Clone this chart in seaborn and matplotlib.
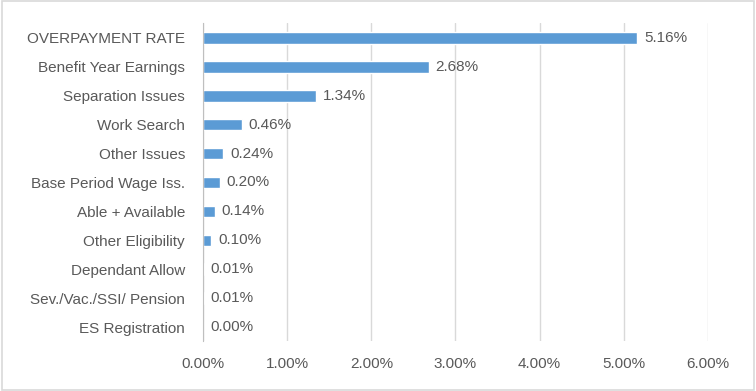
import matplotlib
matplotlib.use("Agg")
import matplotlib.pyplot as plt
import seaborn as sns
import pandas as pd
from matplotlib.patches import Rectangle

# --- Data ---
categories = [
    "OVERPAYMENT RATE", "Benefit Year Earnings", "Separation Issues", "Work Search",
    "Other Issues", "Base Period Wage Iss.", "Able + Available", "Other Eligibility",
    "Dependant Allow", "Sev./Vac./SSI/ Pension", "ES Registration",
]
rates = [5.16, 2.68, 1.34, 0.46, 0.24, 0.20, 0.14, 0.10, 0.01, 0.01, 0.00]
x_ticks = [0, 1, 2, 3, 4, 5, 6]

df = pd.DataFrame({"Category": categories, "Rate": rates})

sns.set_style("white")
plt.rcParams["font.family"] = ["Liberation Sans", "DejaVu Sans"]
text_color = "#595959"

fig = plt.figure(figsize=(7.56, 3.91), dpi=100)
ax = fig.add_axes([0.2685, 0.1266, 0.668, 0.8134])

sns.barplot(data=df, x="Rate", y="Category", color="#5B9BD5", saturation=1,
            width=0.4, ax=ax, zorder=3)

# --- Data labels ---
for i, v in enumerate(rates):
    ax.annotate(f"{v:.2f}%", xy=(v, i), xytext=(5, 0), textcoords="offset points",
                va="center", ha="left", fontsize=11, color=text_color)

# --- Formatting ---
ax.set_xlim(0, 6)
ax.set_ylim(10.5, -0.5)
ax.set_xticks(x_ticks)
ax.set_xticklabels([f"{t:.2f}%" for t in x_ticks], fontsize=11, color=text_color)
ax.tick_params(axis="y", labelsize=11, labelcolor=text_color, length=0, pad=13)
ax.tick_params(axis="x", length=0, pad=11)
ax.set_xlabel("")
ax.set_ylabel("")
ax.grid(axis="x", color="#D9D9D9", linewidth=1, zorder=0)
for s in ["top", "right", "bottom"]:
    ax.spines[s].set_visible(False)
ax.spines["left"].set_color("#BFBFBF")
ax.spines["left"].set_zorder(4)

# chart border
fig.patches.append(Rectangle((0.002, 0.003), 0.996, 0.994, transform=fig.transFigure,
                             fill=False, edgecolor="#D9D9D9", linewidth=1.2))

fig.savefig("out.png", dpi=100)
